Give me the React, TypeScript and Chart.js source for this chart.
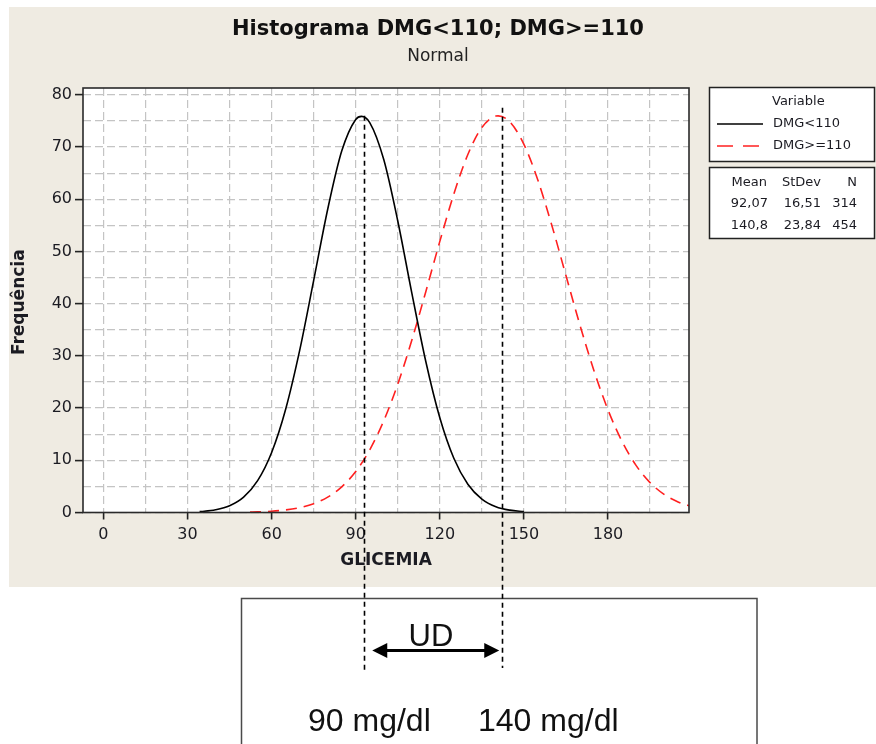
import React, { useEffect, useRef } from 'react';
import { Chart, registerables } from 'chart.js';

Chart.register(...registerables);

// ---- data ----
const lowX = [34.3, 35, 40, 45, 50, 55, 60, 65, 70, 75, 80, 85, 90, 92.07, 95, 100, 105, 110, 115, 120, 125, 130, 135, 140, 145, 150];
const lowY = [0.16, 0.19, 0.53, 1.3, 2.95, 6.1, 11.5, 19.78, 31.05, 44.46, 58.08, 69.22, 75.28, 75.87, 74.68, 67.6, 55.83, 42.07, 28.92, 18.14, 10.38, 5.42, 2.58, 1.12, 0.45, 0.16];
const highX = [52.3, 55, 60, 65, 70, 75, 80, 85, 90, 95, 100, 105, 110, 115, 120, 125, 130, 135, 140, 140.8, 145, 150, 155, 160, 165, 170, 175, 180, 185, 190, 195, 200, 205, 210];
const highY = [0.07, 0.12, 0.24, 0.49, 0.92, 1.68, 2.94, 4.91, 7.85, 12.0, 17.57, 24.6, 32.97, 42.29, 51.92, 60.99, 68.56, 73.75, 75.93, 75.97, 74.8, 70.52, 63.62, 54.93, 45.38, 35.88, 27.15, 19.66, 13.62, 9.03, 5.73, 3.48, 2.02, 1.13];

const seriesNames = ['DMG<110', 'DMG>=110'];
const statHeaders = ['Mean', 'StDev', 'N'];
const statMean = ['92,07', '140,8'];
const statStDev = ['16,51', '23,84'];
const statN = ['314', '454'];

const titleText = 'Histograma DMG<110; DMG>=110';
const subtitleText = 'Normal';
const xTitle = 'GLICEMIA';
const yTitle = 'Frequência';
const legendHeader = 'Variable';

const markerX = [93, 142.3];
const markerTopY = [76, 77.5];
const arrowRange = [95.9, 141.2];
const udLabel = 'UD';
const bottomLabels = ['90 mg/dl', '140 mg/dl'];

const X_MIN = -7.3;
const X_MAX = 208.9;
const Y_MIN = 0;
const Y_MAX = 81.3;

// ---- styles ----
const FONT = 'DejaVu Sans';
const FONT2 = 'Liberation Sans';
const PANEL_BG = '#efebe2';
const GRID = '#c4c4c4';
const INK = '#1b1b22';
const RED = '#ff2020';

const decor = {
  id: 'decor',
  beforeDraw(chart: any) {
    const { ctx, width, height, chartArea: a } = chart;
    ctx.save();
    ctx.fillStyle = '#ffffff';
    ctx.fillRect(0, 0, width, height);
    ctx.fillStyle = PANEL_BG;
    ctx.fillRect(9, 7, width - 9, 580);
    ctx.fillStyle = '#ffffff';
    ctx.fillRect(a.left, a.top, a.right - a.left, a.bottom - a.top);
    ctx.strokeStyle = '#4a4a4a';
    ctx.lineWidth = 1.5;
    ctx.strokeRect(241.5, 598.5, 515.5, 200);
    ctx.restore();
  },
  afterDatasetsDraw(chart: any) {
    const { ctx, chartArea: a } = chart;
    const xs = chart.scales.x;
    const ys = chart.scales.y;
    ctx.save();
    // frame
    ctx.strokeStyle = '#2a2a2a';
    ctx.lineWidth = 1.6;
    ctx.strokeRect(a.left, a.top, a.right - a.left, a.bottom - a.top);

    // axis titles
    ctx.fillStyle = INK;
    ctx.font = `bold 17px "${FONT}"`;
    ctx.textAlign = 'center';
    ctx.textBaseline = 'middle';
    ctx.fillText(xTitle, (a.left + a.right) / 2, 561);
    ctx.save();
    ctx.translate(20, (a.top + a.bottom) / 2 + 2);
    ctx.rotate(-Math.PI / 2);
    ctx.font = `bold 17px "${FONT}"`;
    ctx.fillText(yTitle, 0, 0);
    ctx.restore();

    // dashed vertical markers
    const bottoms = [672, 668];
    ctx.strokeStyle = '#000';
    ctx.lineWidth = 1.6;
    ctx.setLineDash([5, 4]);
    markerX.forEach((v, i) => {
      const px = Math.round(xs.getPixelForValue(v)) + 0.5;
      ctx.beginPath();
      ctx.moveTo(px, ys.getPixelForValue(markerTopY[i]));
      ctx.lineTo(px, bottoms[i]);
      ctx.stroke();
    });
    ctx.setLineDash([]);

    // arrow
    const ay = 650.5;
    const l = xs.getPixelForValue(arrowRange[0]);
    const r = xs.getPixelForValue(arrowRange[1]);
    ctx.lineWidth = 3;
    ctx.beginPath();
    ctx.moveTo(l + 10, ay);
    ctx.lineTo(r - 10, ay);
    ctx.stroke();
    ctx.fillStyle = '#000';
    ctx.beginPath();
    ctx.moveTo(l, ay);
    ctx.lineTo(l + 15, ay - 7.5);
    ctx.lineTo(l + 15, ay + 7.5);
    ctx.closePath();
    ctx.fill();
    ctx.beginPath();
    ctx.moveTo(r, ay);
    ctx.lineTo(r - 15, ay - 7.5);
    ctx.lineTo(r - 15, ay + 7.5);
    ctx.closePath();
    ctx.fill();

    ctx.fillStyle = '#111';
    ctx.textBaseline = 'alphabetic';
    ctx.textAlign = 'center';
    ctx.font = `31px "${FONT2}"`;
    ctx.fillText(udLabel, 431, 646);
    ctx.textAlign = 'left';
    ctx.font = `32px "${FONT2}"`;
    ctx.fillText(bottomLabels[0], 308, 731);
    ctx.fillText(bottomLabels[1], 478, 731);

    // legend box
    ctx.fillStyle = '#fff';
    ctx.strokeStyle = '#222';
    ctx.lineWidth = 1.5;
    ctx.fillRect(709.5, 87.5, 165, 74);
    ctx.strokeRect(709.5, 87.5, 165, 74);
    ctx.fillRect(709.5, 167.5, 165, 71);
    ctx.strokeRect(709.5, 167.5, 165, 71);

    ctx.fillStyle = INK;
    ctx.font = `13px "${FONT}"`;
    ctx.textBaseline = 'middle';
    ctx.textAlign = 'left';
    ctx.fillText(legendHeader, 772, 102);
    ctx.fillText(seriesNames[0], 773, 124);
    ctx.fillText(seriesNames[1], 773, 146);

    ctx.lineWidth = 1.5;
    ctx.strokeStyle = '#000';
    ctx.beginPath();
    ctx.moveTo(717, 124);
    ctx.lineTo(763, 124);
    ctx.stroke();
    ctx.strokeStyle = RED;
    ctx.setLineDash([16, 10]);
    ctx.beginPath();
    ctx.moveTo(717, 146);
    ctx.lineTo(763, 146);
    ctx.stroke();
    ctx.setLineDash([]);

    ctx.font = `13px "${FONT}"`;
    ctx.textAlign = 'right';
    const rowsY = [183, 204, 226];
    ctx.fillText(statHeaders[0], 767, rowsY[0]);
    ctx.fillText(statHeaders[1], 821, rowsY[0]);
    ctx.fillText(statHeaders[2], 857, rowsY[0]);
    for (let i = 0; i < 2; i++) {
      ctx.fillText(statMean[i], 768, rowsY[i + 1]);
      ctx.fillText(statStDev[i], 821, rowsY[i + 1]);
      ctx.fillText(statN[i], 857, rowsY[i + 1]);
    }
    ctx.restore();
  },
};

export default function App() {
  const ref = useRef<HTMLCanvasElement>(null);
  useEffect(() => {
    if (!ref.current) return;
    const chart = new Chart(ref.current, {
      type: 'line',
      data: {
        datasets: [
          {
            label: seriesNames[0],
            data: lowX.map((x, i) => ({ x, y: lowY[i] })),
            borderColor: '#000',
            borderWidth: 1.6,
            pointRadius: 0,
            cubicInterpolationMode: 'monotone',
            fill: false,
            xAxisID: 'x',
            yAxisID: 'y',
          },
          {
            label: seriesNames[1],
            data: highX.map((x, i) => ({ x, y: highY[i] })),
            borderColor: RED,
            borderWidth: 1.6,
            borderDash: [11, 7],
            pointRadius: 0,
            cubicInterpolationMode: 'monotone',
            fill: false,
            xAxisID: 'x',
            yAxisID: 'y',
          },
        ],
      },
      options: {
        animation: false,
        responsive: false,
        devicePixelRatio: 1,
        layout: { padding: { left: 0, right: 0, top: 8, bottom: 171.5 } },
        plugins: {
          legend: { display: false },
          tooltip: { enabled: false },
          title: {
            display: true,
            text: titleText,
            color: '#111',
            font: { family: FONT, size: 21, weight: 'bold' },
            padding: { top: 9.4, bottom: 4 },
          },
          subtitle: {
            display: true,
            text: subtitleText,
            color: '#222',
            font: { family: FONT, size: 17, weight: 'normal' },
            padding: { top: 0, bottom: 21 },
          },
        },
        scales: {
          x: {
            type: 'linear',
            position: 'bottom',
            min: X_MIN,
            max: X_MAX,
            afterFit: (s: any) => {
              s.height = 60;
            },
            ticks: {
              stepSize: 15,
              includeBounds: false,
              autoSkip: false,
              maxRotation: 0,
              padding: 6,
              color: INK,
              font: { family: FONT, size: 16 },
              callback: (v: any) => (Number(v) % 30 === 0 ? String(v) : ''),
            },
            grid: {
              color: GRID,
              lineWidth: 1.2,
              tickLength: 7,
              tickWidth: 1.6,
              tickColor: (c: any) => (c.tick && c.tick.value % 30 === 0 ? '#222' : 'rgba(0,0,0,0)'),
            },
            border: { display: false, dash: [8, 4] },
          },
          y: {
            type: 'linear',
            position: 'left',
            min: Y_MIN,
            max: Y_MAX,
            afterFit: (s: any) => {
              s.width = 83;
            },
            ticks: {
              stepSize: 5,
              includeBounds: false,
              autoSkip: false,
              padding: 3,
              color: INK,
              font: { family: FONT, size: 16 },
              callback: (v: any) => (Number(v) % 10 === 0 ? String(v) : ''),
            },
            grid: {
              color: GRID,
              lineWidth: 1.2,
              tickLength: 8,
              tickWidth: 1.6,
              tickColor: (c: any) => (c.tick && c.tick.value % 10 === 0 ? '#222' : 'rgba(0,0,0,0)'),
            },
            border: { display: false, dash: [8, 4] },
          },
          yR: {
            type: 'linear',
            position: 'right',
            display: true,
            afterFit: (s: any) => {
              s.width = 187;
            },
            ticks: { display: false },
            grid: { display: false },
            border: { display: false },
          },
        },
      } as any,
      plugins: [decor],
    });
    return () => chart.destroy();
  }, []);
  return (
    <div style={{ position: 'absolute', left: 0, top: 0, width: 876, height: 744, background: '#fff', overflow: 'hidden' }}>
      <canvas ref={ref} width={876} height={744} style={{ display: 'block', width: 876, height: 744 }} />
    </div>
  );
}
